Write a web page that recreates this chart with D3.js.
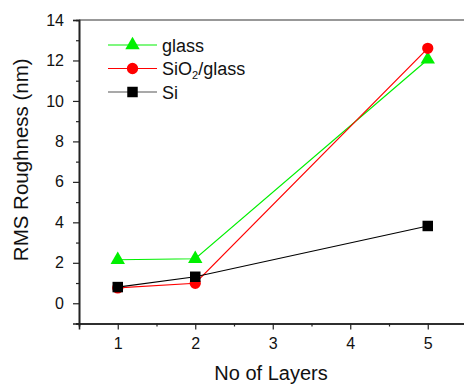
<!DOCTYPE html>
<html>
<head>
<meta charset="utf-8">
<script src="https://cdn.jsdelivr.net/npm/d3@7"></script>
<style>
  body { margin: 0; background: #fff; }
  svg { display: block; font-family: "Liberation Sans", Arial, sans-serif; }
</style>
</head>
<body>
<div id="chart"></div>
<script>
const layers = [1, 2, 5];
const glass = [2.15, 2.2, 12.05];
const sio2Glass = [0.76, 0.99, 12.6];
const si = [0.8, 1.31, 3.82];
const xTicks = [1, 2, 3, 4, 5];
const yTicks = [0, 2, 4, 6, 8, 10, 12, 14];

const width = 464, height = 384;

const series = [
    {name: "glass", values: glass, color: "#00f000", symbol: d3.symbolTriangle},
    {name: "SiO2/glass", values: sio2Glass, color: "#ff0000", symbol: d3.symbolCircle},
    {name: "Si", values: si, color: "#000000", symbol: d3.symbolSquare}
];

const x = d3.scaleLinear().domain([0.5, 5.5]).range([79, 466.5]);
const y = d3.scaleLinear().domain([-1, 14]).range([323.5, 20]);

const svg = d3.select("#chart").append("svg")
    .attr("width", width).attr("height", height);

// axes
svg.append("g")
    .attr("transform", `translate(0,${y(-1)})`)
    .call(d3.axisBottom(x).tickValues(xTicks).tickFormat(d3.format("d")).tickSize(6).tickPadding(8));
svg.append("g")
    .attr("transform", `translate(0,${y(-1)})`)
    .call(d3.axisBottom(x).tickValues(d3.range(0.5, 5.6, 1)).tickFormat("").tickSize(3));

svg.append("g")
    .attr("transform", `translate(${x(0.5)},0)`)
    .call(d3.axisLeft(y).tickValues(yTicks).tickSize(6).tickPadding(9));
svg.append("g")
    .attr("transform", `translate(${x(0.5)},0)`)
    .call(d3.axisLeft(y).tickValues(d3.range(-1, 14, 2)).tickFormat("").tickSize(3));

svg.selectAll(".domain").attr("stroke", "#222").attr("stroke-width", 1.6);
svg.selectAll(".tick line").attr("stroke", "#222").attr("stroke-width", 1.2);
svg.selectAll(".tick text").attr("font-size", 16).attr("fill", "#111")
    .attr("font-family", "Liberation Sans, Arial, sans-serif");

// top frame
svg.append("line")
    .attr("x1", x(0.5)).attr("x2", width)
    .attr("y1", y(14)).attr("y2", y(14))
    .attr("stroke", "#333").attr("stroke-width", 1.2);

// titles
svg.append("text")
    .attr("x", 271).attr("y", 380)
    .attr("text-anchor", "middle")
    .attr("font-size", 20).attr("fill", "#111")
    .text("No of Layers");

svg.append("text")
    .attr("transform", `translate(28,${(y(14) + y(-1)) / 2 - 12}) rotate(-90)`)
    .attr("text-anchor", "middle")
    .attr("font-size", 20.5).attr("fill", "#111")
    .text("RMS Roughness (nm)");

// lines + markers
const line = d3.line().x((d, i) => x(layers[i])).y(d => y(d));
const symSize = {"glass": 90, "SiO2/glass": 100, "Si": 110};

series.forEach(s => {
    svg.append("path")
        .attr("d", line(s.values))
        .attr("fill", "none")
        .attr("stroke", s.color)
        .attr("stroke-width", 1.2);
    svg.selectAll(null)
        .data(s.values)
        .join("path")
        .attr("transform", (d, i) => `translate(${x(layers[i])},${y(d)})`)
        .attr("d", d3.symbol().type(s.symbol).size(symSize[s.name]))
        .attr("fill", s.color);
});

// legend
const legend = svg.append("g");
series.forEach((s, i) => {
    const ly = 45 + i * 23.5;
    legend.append("line")
        .attr("x1", 108).attr("x2", 157)
        .attr("y1", ly).attr("y2", ly)
        .attr("stroke", s.name === "Si" ? "#555" : s.color)
        .attr("stroke-width", 1.2);
    legend.append("path")
        .attr("transform", `translate(132.5,${ly})`)
        .attr("d", d3.symbol().type(s.symbol).size(symSize[s.name]))
        .attr("fill", s.color);
    const t = legend.append("text")
        .attr("x", 162).attr("y", ly + 6.5)
        .attr("font-size", 18).attr("fill", "#111");
    if (s.name === "SiO2/glass") {
        t.append("tspan").text("SiO");
        t.append("tspan").attr("font-size", 11).attr("dy", 4).text("2");
        t.append("tspan").attr("dy", -4).text("/glass");
    } else {
        t.text(s.name);
    }
});
</script>
</body>
</html>
